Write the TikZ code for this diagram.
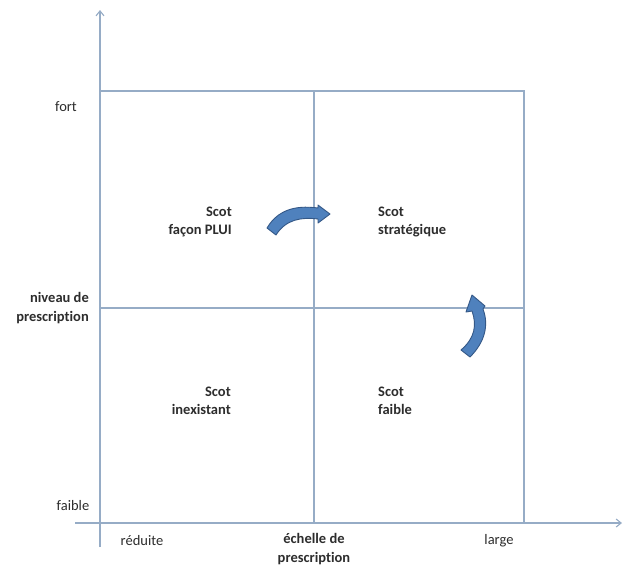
\documentclass[tikz,border=0pt]{standalone}
\usepackage{fontspec}
\setmainfont{Carlito}[Ligatures=NoCommon]
\usetikzlibrary{arrows.meta}
\definecolor{gridc}{RGB}{150,172,198}
\definecolor{txtc}{RGB}{45,45,45}
\definecolor{arrfill}{RGB}{79,129,189}
\definecolor{arrdraw}{RGB}{52,88,135}
\begin{document}
\begin{tikzpicture}[x=1pt,y=-1pt,
  gridline/.style={draw=gridc,line width=1.3pt},
  axisline/.style={draw=gridc,line width=1.1pt,-{Straight Barb[length=5pt,width=8pt]}},
  lab/.style={font=\fontsize{14.5}{18.5}\selectfont,text=txtc,inner sep=0pt},
  blab/.style={lab,font=\fontsize{14.5}{18.5}\selectfont\bfseries},
  bentarrow/.style={fill=arrfill,draw=arrdraw,line width=0.9pt,line join=round}]
\useasboundingbox (0,0) rectangle (625,566);
\fill[white] (0,0) rectangle (625,566);
% axes
\coordinate (ybot) at (100,547);
\coordinate (ytop) at (100,10);
\coordinate (xleft) at (75,523);
\coordinate (xright) at (622,523);
\draw[axisline] (ybot) -- (ytop);
\draw[axisline] (xleft) -- (xright);
% grid box
\coordinate (tl) at (100,91);
\coordinate (br) at (524,523);
\draw[gridline] (tl) rectangle (br);
\coordinate (vt) at (314,91);
\coordinate (vb) at (314,523);
\coordinate (hl) at (100,308);
\coordinate (hr) at (524,308);
\draw[gridline] (vt) -- (vb);
\draw[gridline] (hl) -- (hr);
% labels
\node[lab] (fort) at (66,107) {fort};
\node[lab] (faible) at (73,506) {faible};
\node[blab,align=right,anchor=east] (niveau) at (89,308) {niveau de\\prescription};
\node[lab] (reduite) at (142,541) {réduite};
\node[lab] (large) at (499,541) {large};
\node[blab,align=center] (echelle) at (314,549) {échelle de\\prescription};
\node[blab,align=right,anchor=east] (plui) at (232,222) {Scot\\façon PLUI};
\node[blab,align=left,anchor=west] (strat) at (378,222) {Scot\\stratégique};
\node[blab,align=right,anchor=east] (inex) at (231,401) {Scot\\inexistant};
\node[blab,align=left,anchor=west] (faib) at (378,401) {Scot\\faible};
% curved arrows
\path[bentarrow] (267,228) .. controls (280,206) and (302,206) .. (318,208)
  -- (318,205) -- (330,214) -- (318,223) -- (318,219)
  .. controls (302,217) and (286,219) .. (276,235) -- cycle;
\path[bentarrow] (470,357) .. controls (485,342) and (489,325) .. (483,309)
  -- (485,306) -- (472,295) -- (466,312) -- (472,311)
  .. controls (477,325) and (475,338) .. (461,350) -- cycle;
\end{tikzpicture}
\end{document}
